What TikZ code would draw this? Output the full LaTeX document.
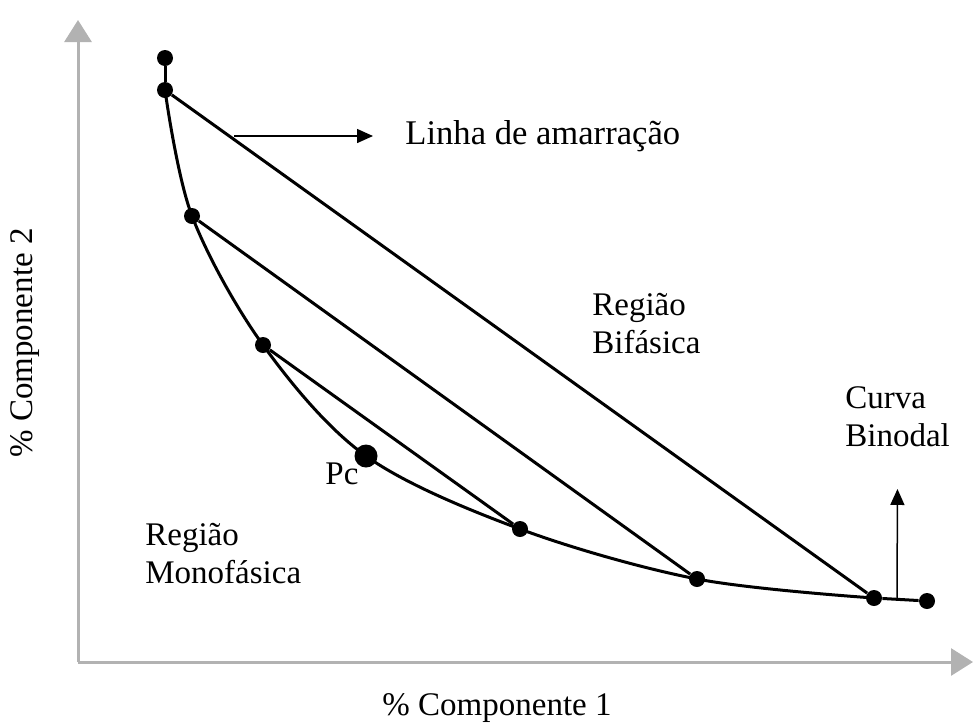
\documentclass[tikz,border=0pt]{standalone}
\usepackage{fontspec}
\setmainfont{Liberation Serif}
\usepackage{tikz}
\usetikzlibrary{arrows.meta,positioning}

\tikzset{
    dot/.style={circle, fill=black, inner sep=0pt, minimum size=8pt},
    bigdot/.style={circle, fill=black, inner sep=0pt, minimum size=11.5pt},
    axis/.style={draw=black!30, line width=1.5pt, -{Triangle[length=11pt,width=13.5pt]}},
    tip/.style={line width=0.75pt, -{Triangle[length=8pt,width=7pt]}},
    label/.style={inner sep=0pt, align=left}
}

\begin{document}
\begin{tikzpicture}[x=0.5pt, y=-0.5pt, font=\fontsize{16.5}{19}\selectfont]
    \useasboundingbox (0,0) rectangle (974,724);

    % Axes
    \coordinate (origin) at (78,662);
    \coordinate (ytop) at (78,20);
    \coordinate (xend) at (973,662);
    \draw[axis] (origin) -- (ytop);
    \draw[axis] (origin) -- (xend);

    % Points on the binodal curve
    \node[dot] (a0) at (165,58) {};
    \node[dot] (a1) at (165,90) {};
    \node[dot] (a2) at (192,216) {};
    \node[dot] (a3) at (263,345) {};
    \node[bigdot] (pc) at (366,456) {};
    \node[dot] (r1) at (520,529) {};
    \node[dot] (r2) at (697,579) {};
    \node[dot] (r3) at (874,598) {};
    \node[dot] (r4) at (927,601) {};

    % Binodal curve
    \draw[line width=1.5pt] (a0) -- (a1);
    \draw[line width=1.5pt] plot[smooth, tension=0.55] coordinates
        {(a1) (a2) (a3) (pc) (r1) (r2) (r3)};
    \draw[line width=1.5pt] (r3) -- (r4);

    % Tie lines
    \draw[line width=1.5pt] (a1) -- (r3);
    \draw[line width=1.5pt] (a2) -- (r2);
    \draw[line width=1.5pt] (a3) -- (r1);

    % Labels
    \node[label, anchor=west, font=\fontsize{17.3}{19}\selectfont] (linha) at (405,136) {Linha de amarração};
    \node[label, anchor=north west] (bifasica) at (592,293) {Região\\Bifásica};
    \node[label, anchor=north west] (curva) at (845,386) {Curva\\Binodal};
    \node[label, anchor=west] (pclabel) at (325,474) {Pc};
    \node[label, anchor=north west] (mono) at (145,523) {Região\\Monofásica};
    \node[label] (xlabel) at (497,708) {\% Componente 1};
    \node[label, rotate=90] (ylabel) at (25,343) {\% Componente 2};

    % Pointers
    \coordinate (tie) at (234,136);
    \coordinate (bn) at (897,599);
    \draw[tip, shorten >=16pt] (tie) -- (linha.west);
    \draw[tip, shorten >=21pt] (bn) -- (curva.south);

\end{tikzpicture}
\end{document}
